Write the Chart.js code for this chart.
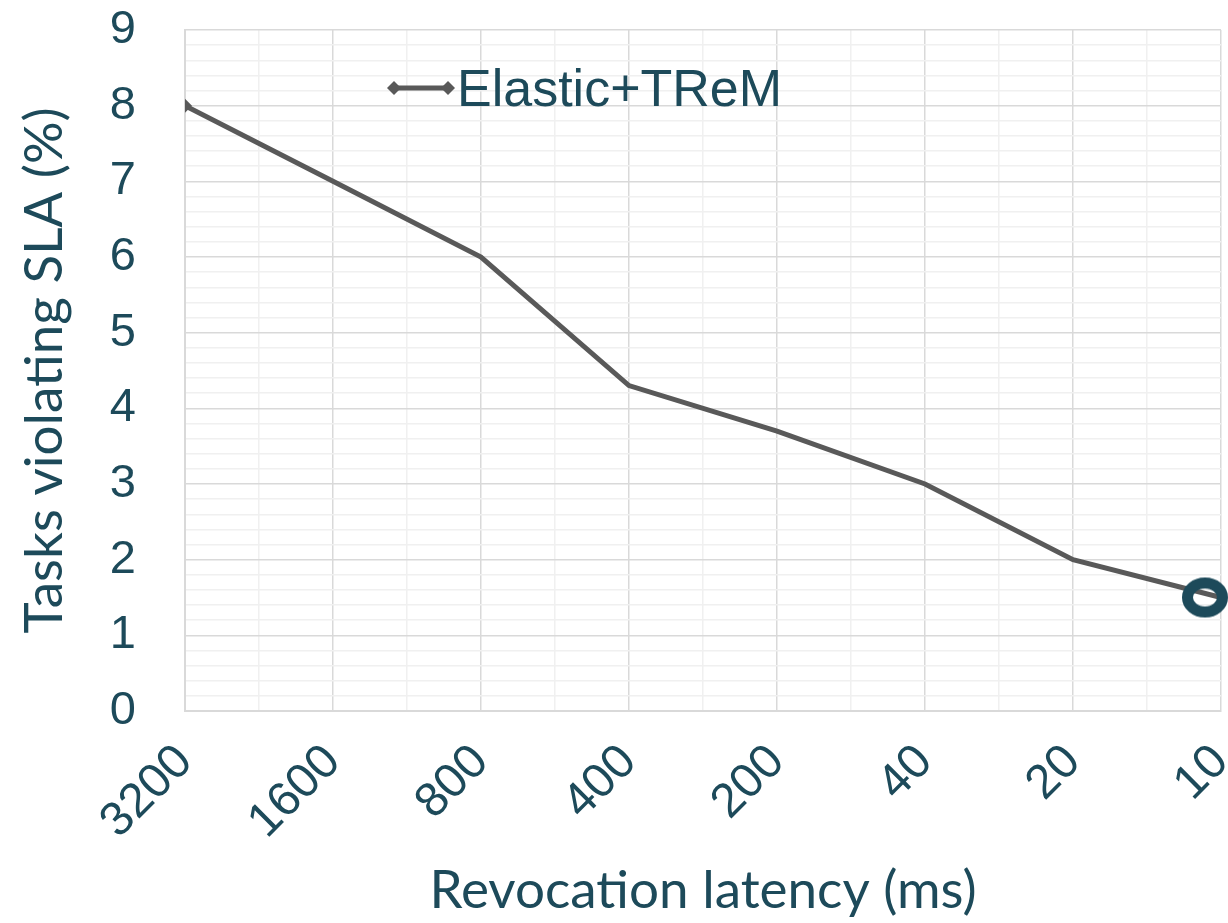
<!DOCTYPE html>
<html>
<head>
<meta charset="utf-8">
<script src="https://cdn.jsdelivr.net/npm/chart.js@4.4.1/dist/chart.umd.min.js"></script>
<style>
  html, body { margin: 0; padding: 0; background: #fff; }
  #wrap { position: relative; width: 1228px; height: 923px; }
  #legend {
    position: absolute; left: 387px; top: 62px;
    display: flex; align-items: center;
    font-family: 'Liberation Sans', Arial, sans-serif;
    font-size: 52px; line-height: 1; color: #1d4a5a;
  }
  #legend svg { margin-right: 2px; }
</style>
</head>
<body>
<div id="wrap">
  <canvas id="chart" width="1228" height="923"></canvas>
  <div id="legend">
    <svg width="68" height="18">
      <line x1="7" y1="9" x2="61" y2="9" stroke="#595959" stroke-width="5"/>
      <polygon points="7,2 14,9 7,16 0,9" fill="#595959"/>
      <polygon points="61,2 68,9 61,16 54,9" fill="#595959"/>
    </svg>
    <span>Elastic+TReM</span>
  </div>
</div>
<script>
const latencyLabels = ['3200', '1600', '800', '400', '200', '40', '20', '10'];
const slaViolations = [8, 7, 6, 4.3, 3.7, 3.0, 2.0, 1.5];
const yMin = 0;
const yMax = 9;

const textColor = '#1d4a5a';
const lineColor = '#595959';

function isMajor(v) {
    return Math.abs(v - Math.round(v)) < 1e-6;
}

// ring marker on the last point, drawn a bit left of the point like the original
function ringMarker() {
    const c = document.createElement('canvas');
    c.width = 84;
    c.height = 46;
    const g = c.getContext('2d');
    g.strokeStyle = textColor;
    g.lineWidth = 11;
    g.beginPath();
    g.ellipse(26, 23, 17.5, 14.5, 0, 0, Math.PI * 2);
    g.stroke();
    return c;
}
const ring = ringMarker();
const lastIdx = slaViolations.length - 1;

const points = slaViolations.map((v, i) => ({ x: i, y: v }));

new Chart(document.getElementById('chart'), {
    type: 'line',
    data: {
        datasets: [{
            label: 'Elastic+TReM',
            data: points,
            borderColor: lineColor,
            backgroundColor: lineColor,
            borderWidth: 5,
            tension: 0,
            clip: { left: 0, top: 10, right: 10, bottom: 10 },
            pointStyle: ctx => ctx.dataIndex === 0 ? 'rectRot' : (ctx.dataIndex === lastIdx ? ring : 'circle'),
            pointRadius: ctx => ctx.dataIndex === 0 ? 7 : (ctx.dataIndex === lastIdx ? 3 : 0),
            pointBorderWidth: 0,
            pointHoverRadius: ctx => ctx.dataIndex === 0 ? 7 : (ctx.dataIndex === lastIdx ? 3 : 0)
        }]
    },
    options: {
        responsive: false,
        animation: false,
        layout: { padding: { top: 30, right: 7, left: 0, bottom: 0 } },
        plugins: {
            legend: { display: false },
            tooltip: { enabled: false }
        },
        scales: {
            x: {
                type: 'linear',
                min: 0,
                max: latencyLabels.length - 1,
                afterFit: function (scale) {
                    scale.height = 212;
                    scale.paddingLeft = 0;
                    scale.paddingRight = 0;
                },
                ticks: {
                    stepSize: 0.5,
                    autoSkip: false,
                    minRotation: 45,
                    maxRotation: 45,
                    padding: 23,
                    color: textColor,
                    font: { family: 'Liberation Sans', size: 48 },
                    callback: function (value) {
                        return isMajor(value) ? latencyLabels[Math.round(value)] : '';
                    }
                },
                grid: {
                    drawTicks: false,
                    lineWidth: 1.5,
                    color: ctx => ctx.tick && isMajor(ctx.tick.value) ? '#d9d9d9' : '#f0f0f0'
                },
                border: { color: '#d9d9d9', width: 2 },
                title: {
                    display: true,
                    text: 'Revocation latency (ms)',
                    color: textColor,
                    font: { family: 'Lato', size: 53, weight: 'normal' },
                    padding: { top: 0, bottom: 0 }
                }
            },
            y: {
                min: yMin,
                max: yMax,
                afterFit: function (scale) {
                    scale.width = 185;
                    scale.paddingTop = 0;
                    scale.paddingBottom = 0;
                },
                ticks: {
                    stepSize: 0.2,
                    autoSkip: false,
                    padding: 49,
                    color: textColor,
                    font: { family: 'Liberation Sans', size: 47 },
                    callback: function (value) {
                        return isMajor(value) ? String(Math.round(value)) : '';
                    }
                },
                grid: {
                    drawTicks: false,
                    lineWidth: 1.5,
                    color: ctx => ctx.tick && isMajor(ctx.tick.value) ? '#d9d9d9' : '#f0f0f0'
                },
                border: { color: '#d9d9d9', width: 2 },
                title: {
                    display: true,
                    text: 'Tasks violating SLA (%)',
                    color: textColor,
                    font: { family: 'Lato', size: 53, weight: 'normal' },
                    padding: { top: 13, bottom: 0 }
                }
            }
        }
    }
});
</script>
</body>
</html>
